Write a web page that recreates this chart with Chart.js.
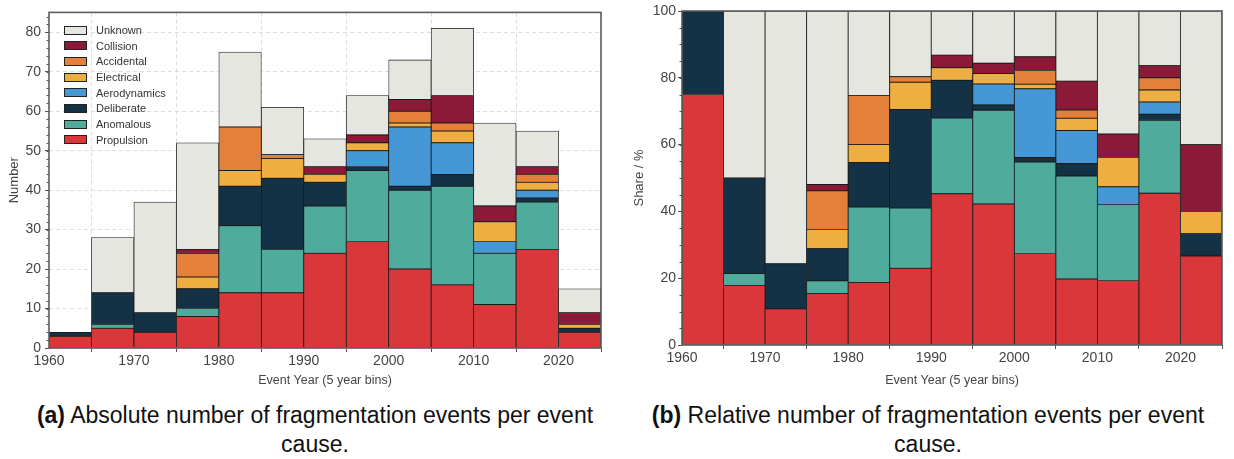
<!DOCTYPE html>
<html>
<head>
<meta charset="utf-8">
<script src="https://cdn.jsdelivr.net/npm/chart.js@4"></script>
<style>
	body { margin: 0; background: #fff; font-family: "Liberation Sans", Arial, sans-serif; }
	#wrap { position: relative; width: 1234px; height: 459px; overflow: hidden; }
	.panel { position: absolute; top: 0; }
	.legend { position: absolute; left: 64px; top: 23px; font-size: 11px; color: #333; }
	.legend div { height: 15.7px; line-height: 15.7px; white-space: nowrap; }
	.legend span.box { display: inline-block; width: 21px; height: 7px; border: 1px solid #222; vertical-align: middle; margin-right: 9px; position: relative; top: -1px; }
	.caption { position: absolute; top: 401px; font-size: 23px; line-height: 29px; text-align: center; color: #111; }
</style>
</head>
<body>
<div id="wrap">
	<div class="panel" style="left:0"><canvas id="chartA" width="620" height="392"></canvas></div>
	<div class="panel" style="left:620px"><canvas id="chartB" width="614" height="392"></canvas></div>
	<div class="legend" id="legend"></div>
	<div class="caption" style="left:0;width:630px"><b>(a)</b> Absolute number of fragmentation events per event<br>cause.</div>
	<div class="caption" style="left:620px;width:616px"><b>(b)</b> Relative number of fragmentation events per event<br>cause.</div>
</div>
<script>
// left edge of each 5 year bin
const bins = [1960, 1965, 1970, 1975, 1980, 1985, 1990, 1995, 2000, 2005, 2010, 2015, 2020];

// events per bin and cause
const propulsion   = [3, 5, 4, 8, 14, 14, 24, 27, 20, 16, 11, 25, 4];
const anomalous    = [0, 1, 0, 2, 17, 11, 12, 18, 20, 25, 13, 12, 0];
const deliberate   = [1, 8, 5, 5, 10, 18, 6, 1, 1, 3, 0, 1, 1];
const aerodynamics = [0, 0, 0, 0, 0, 0, 0, 4, 15, 8, 3, 2, 0];
const electrical   = [0, 0, 0, 3, 4, 5, 2, 2, 1, 3, 5, 2, 1];
const accidental   = [0, 0, 0, 6, 11, 1, 0, 0, 3, 2, 0, 2, 0];
const collision    = [0, 0, 0, 1, 0, 0, 2, 2, 3, 7, 4, 2, 3];
const unknown      = [0, 14, 28, 27, 19, 12, 7, 10, 10, 17, 21, 9, 6];

const yearTicks = [1960, 1970, 1980, 1990, 2000, 2010, 2020];

const series = [
	{ label: "Propulsion", values: propulsion, color: "#d9373a" },
	{ label: "Anomalous", values: anomalous, color: "#4fab9c" },
	{ label: "Deliberate", values: deliberate, color: "#133246" },
	{ label: "Aerodynamics", values: aerodynamics, color: "#4597d5" },
	{ label: "Electrical", values: electrical, color: "#eeae42" },
	{ label: "Accidental", values: accidental, color: "#e5803a" },
	{ label: "Collision", values: collision, color: "#8a1a38" },
	{ label: "Unknown", values: unknown, color: "#e6e6e1" },
];

const totals = bins.map((b, i) => series.reduce((s, d) => s + d.values[i], 0));

const FONT = "'Liberation Sans', Arial, sans-serif";
Chart.defaults.font.family = FONT;
Chart.defaults.color = "#444";

// minor ticks + full frame around the plot
const frameAndMinor = {
	id: "frameAndMinor",
	afterDraw(chart, args, opts) {
		const c = chart.ctx;
		const y = chart.scales.y;
		const a = chart.chartArea;
		c.save();
		c.strokeStyle = "#555";
		c.lineWidth = 1;
		for (let v = 0; v <= y.max; v += opts.step) {
			const py = Math.round(y.getPixelForValue(v)) + 0.5;
			c.beginPath();
			c.moveTo(a.left - 2.5, py);
			c.lineTo(a.left, py);
			c.stroke();
		}
		c.strokeStyle = "#5c5c5c";
		c.lineWidth = 1.6;
		c.strokeRect(a.left, a.top, a.right - a.left, a.bottom - a.top);
		c.restore();
	},
};

function makeDatasets(relative) {
	return series.map((s) => ({
		label: s.label,
		data: bins.map((b, i) => ({
			x: b + 2.5,
			y: s.values[i] === 0 ? null : (relative ? (s.values[i] / totals[i]) * 100 : s.values[i]),
		})),
		backgroundColor: s.color,
		borderColor: "#1a1a1a",
		borderWidth: 0.8,
		borderSkipped: false,
		barPercentage: 1,
		categoryPercentage: 1,
	}));
}

function makeChart(id, relative, cfg) {
	const ctx = document.getElementById(id).getContext("2d");
	return new Chart(ctx, {
		type: "bar",
		data: { datasets: makeDatasets(relative) },
		plugins: [frameAndMinor],
		options: {
			responsive: false,
			animation: false,
			layout: { padding: { left: 0, right: cfg.padRight, top: cfg.padTop, bottom: 0 } },
			plugins: {
				legend: { display: false },
				tooltip: { enabled: false },
				frameAndMinor: { step: cfg.minorStep },
			},
			scales: {
				x: {
					type: "linear",
					stacked: true,
					offset: false,
					min: 1960,
					max: 2025,
					afterBuildTicks: (scale) => {
						scale.ticks = yearTicks.map((v) => ({ value: v }));
					},
					ticks: {
						color: "#444",
						font: { size: 14 },
						padding: 1,
						maxRotation: 0,
						callback: (v) => String(v),
					},
					grid: {
						display: true,
						drawOnChartArea: cfg.grid,
						color: "#dedede",
						tickColor: "#555",
						tickLength: 4,
						tickWidth: 1,
					},
					border: { display: false, dash: [4, 3] },
					title: {
						display: true,
						text: "Event Year (5 year bins)",
						color: "#444",
						font: { size: 12.5 },
						padding: { top: 0, bottom: 4 },
					},
					afterFit: (scale) => { scale.height = cfg.xHeight; },
				},
				y: {
					stacked: true,
					min: 0,
					max: cfg.yMax,
					afterBuildTicks: (scale) => {
						scale.ticks = cfg.yTicks.map((v) => ({ value: v }));
					},
					ticks: {
						color: "#444",
						font: { size: 14 },
						padding: cfg.yPad,
					},
					grid: {
						display: true,
						drawOnChartArea: cfg.grid,
						color: "#dedede",
						tickColor: "#555",
						tickLength: 4,
						tickWidth: 1,
					},
					border: { display: false, dash: [4, 3] },
					title: {
						display: true,
						text: cfg.yTitle,
						color: "#444",
						font: { size: 13 },
						padding: { top: cfg.yTitlePad, bottom: 0 },
					},
					afterFit: (scale) => { scale.width = cfg.yWidth; },
				},
			},
		},
	});
}

makeChart("chartA", false, {
	padRight: 19, padTop: 10, xHeight: 44, yWidth: 49,
	yMax: 85.05, yTicks: [0, 10, 20, 30, 40, 50, 60, 70, 80], minorStep: 2,
	yTitle: "Number", yTitlePad: 7, yPad: 4, grid: true,
});

makeChart("chartB", true, {
	padRight: 12, padTop: 11, xHeight: 47, yWidth: 62,
	yMax: 100, yTicks: [0, 20, 40, 60, 80, 100], minorStep: 5,
	yTitle: "Share / %", yTitlePad: 12, yPad: 2, grid: false,
});

// legend inside the left plot, top entry = top of the stack
const legend = document.getElementById("legend");
series.slice().reverse().forEach((s) => {
	const row = document.createElement("div");
	const box = document.createElement("span");
	box.className = "box";
	box.style.background = s.color;
	row.appendChild(box);
	row.appendChild(document.createTextNode(s.label));
	legend.appendChild(row);
});
</script>
</body>
</html>
